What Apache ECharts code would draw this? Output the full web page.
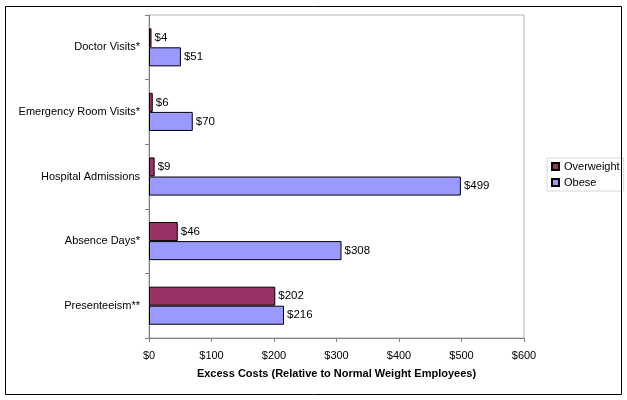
<!DOCTYPE html>
<html><head><meta charset="utf-8">
<script src="https://cdn.jsdelivr.net/npm/echarts@6/dist/echarts.min.js"></script>
<style>html,body{margin:0;padding:0;background:#fff}#c{width:627px;height:400px}</style>
</head><body><div id="c"></div>
<script>
const categories = ["Doctor Visits*", "Emergency Room Visits*", "Hospital Admissions", "Absence Days*", "Presenteeism**"];
const overweight = [4, 6, 9, 46, 202];
const obese = [51, 70, 499, 308, 216];
const xTicks = [0, 100, 200, 300, 400, 500, 600];
const font = "Liberation Sans, Arial, sans-serif";

const chart = echarts.init(document.getElementById('c'), null, {renderer: 'canvas'});
const lbl = {show: true, position: 'right', distance: 3, color: '#000', fontSize: 11.5, fontFamily: font, formatter: p => '$' + p.value};
chart.setOption({
  animation: false,
  graphic: [{type: 'rect', shape: {x: 5.5, y: 6.5, width: 616, height: 388}, style: {fill: 'none', stroke: '#000', lineWidth: 1}, z: 100}],
  grid: {left: 149, right: 103, top: 15, bottom: 62, show: true, borderColor: '#b0b0b0', borderWidth: 1, backgroundColor: '#fff'},
  legend: {
    orient: 'vertical', left: 547, top: 158, itemWidth: 7, itemHeight: 7, itemGap: 5,
    padding: [3, 4, 3, 4], borderColor: '#d8d8d8', borderWidth: 1,
    textStyle: {fontFamily: font, fontSize: 11, color: '#000'},
    data: [{name: 'Overweight', icon: 'rect'}, {name: 'Obese', icon: 'rect'}]
  },
  xAxis: {
    type: 'value', min: xTicks[0], max: xTicks[xTicks.length - 1], interval: 100,
    name: 'Excess Costs (Relative to Normal Weight Employees)', nameLocation: 'middle', nameGap: 30,
    nameTextStyle: {fontFamily: font, fontSize: 11, fontWeight: 'bold', color: '#000'},
    axisLine: {show: true, lineStyle: {color: '#808080'}},
    axisTick: {show: true, length: 4, lineStyle: {color: '#808080'}},
    splitLine: {show: false},
    axisLabel: {fontFamily: font, fontSize: 11, color: '#000', margin: 12, formatter: v => '$' + v}
  },
  yAxis: {
    type: 'category', data: categories, inverse: true,
    axisLine: {show: true, lineStyle: {color: '#808080'}},
    axisTick: {show: true, length: 4, lineStyle: {color: '#808080'}},
    axisLabel: {fontFamily: font, fontSize: 11, color: '#000', margin: 9}
  },
  series: [
    {name: 'Overweight', type: 'bar', data: overweight, barGap: '0%', barCategoryGap: '41%',
     itemStyle: {color: '#993366', borderColor: '#000', borderWidth: 1}, label: lbl},
    {name: 'Obese', type: 'bar', data: obese, barGap: '0%', barCategoryGap: '41%',
     itemStyle: {color: '#9999FF', borderColor: '#000', borderWidth: 1}, label: lbl}
  ]
});
</script></body></html>
